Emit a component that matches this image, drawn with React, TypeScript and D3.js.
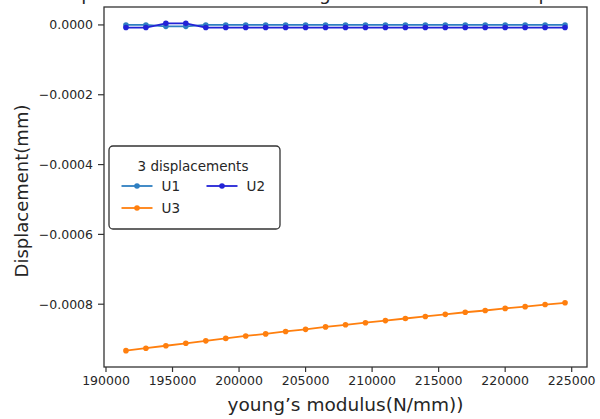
import React from "react";
import * as d3 from "d3";

const youngModulus = [
  191500, 193000, 194500, 196000, 197500, 199000, 200500, 202000, 203500, 205000, 206500, 208000,
  209500, 211000, 212500, 214000, 215500, 217000, 218500, 220000, 221500, 223000, 224500,
];
const U1 = [
  0, 0, -0.000004, -0.000004, 0, 0, 0, 0, 0, 0, 0, 0, 0, 0, 0, 0, 0, 0, 0, 0, 0, 0, 0,
];
const U2 = [
  -0.0000075, -0.0000075, 0.0000045, 0.0000045, -0.0000075, -0.0000075, -0.0000075, -0.0000075,
  -0.0000075, -0.0000075, -0.0000075, -0.0000075, -0.0000075, -0.0000075, -0.0000075, -0.0000075,
  -0.0000075, -0.0000075, -0.0000075, -0.0000075, -0.0000075, -0.0000075, -0.0000075,
];
const U3 = [
  -0.000933, -0.000926, -0.000919, -0.000912, -0.000905, -0.000898, -0.000891, -0.000885,
  -0.000878, -0.000872, -0.000865, -0.000859, -0.000853, -0.000847, -0.000841, -0.000835,
  -0.000829, -0.000823, -0.000818, -0.000812, -0.000807, -0.000801, -0.000796,
];
const seriesNames = ["U1", "U2", "U3"];
const seriesColors = ["#2f7fc1", "#2323d6", "#ff7f0e"];
const xTicks = [190000, 195000, 200000, 205000, 210000, 215000, 220000, 225000];
const yTicks = [0, -0.0002, -0.0004, -0.0006, -0.0008];
const titleText = "3 displacements on the left edge as modulus of the top slab";
const xLabel = "young’s modulus(N/mm))";
const yLabel = "Displacement(mm)";
const legendTitle = "3 displacements";

const W = 600;
const H = 419;
const M = { left: 104, right: 13, top: 7, bottom: 52 };
const FONT = "DejaVu Sans, Liberation Sans, sans-serif";

export default function App() {
  const series = [U1, U2, U3];
  const innerW = W - M.left - M.right;
  const innerH = H - M.top - M.bottom;

  const [xmin, xmax] = d3.extent(youngModulus) as [number, number];
  const xpad = (xmax - xmin) * 0.05;
  const x = d3.scaleLinear().domain([xmin - xpad, xmax + xpad]).range([M.left, M.left + innerW]);

  const all = series.flat();
  const [ymin, ymax] = d3.extent(all) as [number, number];
  const ypad = (ymax - ymin) * 0.05;
  const y = d3.scaleLinear().domain([ymin - ypad, ymax + ypad]).range([M.top + innerH, M.top]);

  const line = d3
    .line<number>()
    .x((_, i) => x(youngModulus[i]))
    .y((d) => y(d));

  const fmtY = (v: number) => (v < 0 ? "\u2212" : "") + Math.abs(v).toFixed(4);
  const axisColor = "#333333";
  const textColor = "#262626";

  const legendX = 109;
  const legendY = 146;

  const legendItems = [
    { i: 0, lx: 121.5, ly: 186 },
    { i: 1, lx: 206.5, ly: 186 },
    { i: 2, lx: 121.5, ly: 208 },
  ];

  return (
    <svg width={W} height={H} style={{ display: "block", position: "absolute", left: 0, top: 0 }} fontFamily={FONT}>
      <rect x={0} y={0} width={W} height={H} fill="#ffffff" />
      <text x={37} y={0} fontSize={18.5} fill={textColor}>
        {titleText}
      </text>
      <rect x={M.left} y={M.top} width={innerW} height={innerH} fill="#ffffff" stroke={axisColor} strokeWidth={1.3} />

      {xTicks.map((t) => (
        <g key={"x" + t}>
          <line x1={x(t)} x2={x(t)} y1={M.top + innerH} y2={M.top + innerH + 5} stroke={axisColor} strokeWidth={1.2} />
          <text x={x(t)} y={M.top + innerH + 18} fontSize={12.5} textAnchor="middle" fill={textColor}>
            {t}
          </text>
        </g>
      ))}
      {yTicks.map((t) => (
        <g key={"y" + t}>
          <line x1={M.left - 6} x2={M.left} y1={y(t)} y2={y(t)} stroke={axisColor} strokeWidth={1.2} />
          <text x={M.left - 11} y={y(t)} dy="0.35em" fontSize={12.5} textAnchor="end" fill={textColor}>
            {fmtY(t)}
          </text>
        </g>
      ))}

      <text x={M.left + innerW / 2} y={411} fontSize={18.5} textAnchor="middle" fill={textColor}>
        {xLabel}
      </text>
      <text
        transform={`translate(28,${M.top + innerH / 2 + 4}) rotate(-90)`}
        fontSize={18}
        textAnchor="middle"
        fill={textColor}
      >
        {yLabel}
      </text>

      {series.map((s, si) => (
        <g key={"s" + si}>
          <path d={line(s) || ""} fill="none" stroke={seriesColors[si]} strokeWidth={1.8} />
          {s.map((v, i) => (
            <circle key={i} cx={x(youngModulus[i])} cy={y(v)} r={2.8} fill={seriesColors[si]} />
          ))}
        </g>
      ))}

      <g>
        <rect x={legendX} y={legendY} width={171} height={83} rx={4} ry={4} fill="#ffffff" stroke={axisColor} strokeWidth={1.3} />
        <text x={193} y={171} fontSize={13.5} textAnchor="middle" fill={textColor}>
          {legendTitle}
        </text>
        {legendItems.map(({ i, lx, ly }) => (
          <g key={"l" + i}>
            <line x1={lx} x2={lx + 31} y1={ly} y2={ly} stroke={seriesColors[i]} strokeWidth={1.8} />
            <circle cx={lx + 15.5} cy={ly} r={2.8} fill={seriesColors[i]} />
            <text x={lx + 40} y={ly + 5} fontSize={13.5} fill={textColor}>
              {seriesNames[i]}
            </text>
          </g>
        ))}
      </g>
    </svg>
  );
}
